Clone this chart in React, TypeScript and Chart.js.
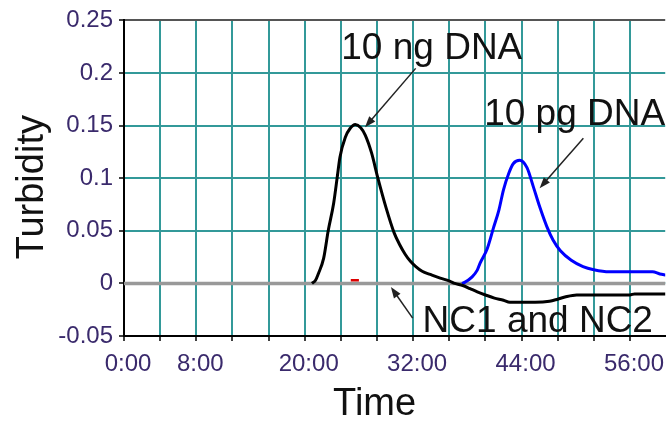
import React, { useEffect, useRef } from 'react';
import { Chart, registerables } from 'chart.js';

Chart.register(...registerables);

// ---- data ----
const xLabelValues = [0, 8, 20, 32, 44, 56];
const xGridValues = [0, 4, 8, 12, 16, 20, 24, 28, 32, 36, 40, 44, 48, 52, 56];
const yTickValues = [-0.05, 0, 0.05, 0.1, 0.15, 0.2, 0.25];

const ngTime = [20.8, 21.2, 21.5, 22.1, 22.6, 23.2, 23.6, 23.9, 24.5, 25.0, 25.6, 26.2, 26.7, 27.4, 28.1, 29.0, 29.9, 30.5, 31.1, 31.7, 32.3, 33.0, 33.9, 35.0, 36.1, 36.6, 37.5, 38.3, 39.1, 40.0, 41.0, 42.0, 42.7, 44.0, 45.5, 47.1, 48.0, 48.8, 50.1, 52.0, 54.0, 56.0, 56.5, 58.0, 60.0];
const ngValue = [0, 0.003, 0.009, 0.024, 0.05, 0.076, 0.101, 0.12, 0.139, 0.147, 0.151, 0.148, 0.141, 0.124, 0.1, 0.072, 0.048, 0.037, 0.028, 0.021, 0.016, 0.0115, 0.0085, 0.005, 0.002, 0, -0.002, -0.005, -0.008, -0.011, -0.014, -0.016, -0.018, -0.018, -0.018, -0.017, -0.015, -0.013, -0.011, -0.011, -0.011, -0.011, -0.010, -0.010, -0.010];

const pgTime = [37.4, 37.7, 38.5, 39.1, 39.4, 40.2, 40.9, 41.5, 42.0, 42.6, 43.1, 43.8, 44.6, 45.3, 46.0, 46.8, 47.5, 48.3, 49.5, 50.8, 52.0, 53.7, 55.6, 57.0, 58.5, 59.3, 60.0];
const pgValue = [0, 0.001, 0.006, 0.0126, 0.019, 0.033, 0.053, 0.07, 0.089, 0.105, 0.114, 0.117, 0.11, 0.092, 0.073, 0.054, 0.041, 0.031, 0.022, 0.016, 0.013, 0.011, 0.011, 0.011, 0.011, 0.009, 0.008];

const ncTime = [0, 60];
const ncValue = [0, 0];

const redTime = [25.1, 26.0];
const redValue = [0.003, 0.003];

const annotationTexts = ['10 ng DNA', '10 pg DNA', 'NC1 and NC2'];
const annotationAnchorX = [24.05, 39.86, 33.05];
const annotationAnchorY = [0.213, 0.1503, -0.0462];
const arrowFromX = [32.28, 50.84, 31.95];
const arrowFromY = [0.2044, 0.138, -0.033];
const arrowToX = [26.68, 46.0, 29.54];
const arrowToY = [0.1484, 0.0905, -0.0035];

const xTitle = 'Time';
const yTitle = 'Turbidity';

const toPoints = (xs: number[], ys: number[]) => xs.map((x, i) => ({ x, y: ys[i] }));

const TEAL = '#339999';
const FONT = '"Liberation Sans", Arial, sans-serif';
const TICK_COLOR = '#3a2a6c';

const overlayPlugin = {
  id: 'overlay',
  afterDatasetsDraw(chart: any) {
    const { ctx, scales } = chart;
    const xs = scales.x;
    const ys = scales.y;
    ctx.save();
    // annotations
    ctx.font = `37px ${FONT}`;
    ctx.textAlign = 'left';
    ctx.textBaseline = 'alphabetic';
    annotationTexts.forEach((t, i) => {
      ctx.fillStyle = '#111111';
      ctx.fillText(t, xs.getPixelForValue(annotationAnchorX[i]), ys.getPixelForValue(annotationAnchorY[i]));
      const x1 = xs.getPixelForValue(arrowFromX[i]);
      const y1 = ys.getPixelForValue(arrowFromY[i]);
      const x2 = xs.getPixelForValue(arrowToX[i]);
      const y2 = ys.getPixelForValue(arrowToY[i]);
      const ang = Math.atan2(y2 - y1, x2 - x1);
      const headLen = 11;
      const headW = 4;
      ctx.strokeStyle = '#222222';
      ctx.lineWidth = 1.5;
      ctx.beginPath();
      ctx.moveTo(x1, y1);
      ctx.lineTo(x2 - Math.cos(ang) * headLen * 0.8, y2 - Math.sin(ang) * headLen * 0.8);
      ctx.stroke();
      ctx.fillStyle = '#222222';
      ctx.beginPath();
      ctx.moveTo(x2, y2);
      ctx.lineTo(x2 - Math.cos(ang) * headLen - Math.sin(ang) * headW, y2 - Math.sin(ang) * headLen + Math.cos(ang) * headW);
      ctx.lineTo(x2 - Math.cos(ang) * headLen + Math.sin(ang) * headW, y2 - Math.sin(ang) * headLen - Math.cos(ang) * headW);
      ctx.closePath();
      ctx.fill();
    });
    // axis titles
    const area = chart.chartArea;
    ctx.font = `38px ${FONT}`;
    ctx.fillStyle = '#111111';
    ctx.textAlign = 'center';
    ctx.textBaseline = 'alphabetic';
    ctx.fillText(xTitle, (area.left + area.right) / 2 - 20, area.bottom + 79);
    ctx.save();
    ctx.translate(area.left - 81, (area.top + area.bottom) / 2 + 9);
    ctx.rotate(-Math.PI / 2);
    ctx.fillText(yTitle, 0, 0);
    ctx.restore();
    ctx.restore();
  },
};

export default function App() {
  const canvasRef = useRef<HTMLCanvasElement | null>(null);

  useEffect(() => {
    const canvas = canvasRef.current;
    if (!canvas) return;
    const chart = new Chart(canvas, {
      type: 'line',
      data: {
        datasets: [
          {
            label: 'red',
            data: toPoints(redTime, redValue),
            borderColor: '#dd0000',
            borderWidth: 2.5,
            pointRadius: 0,
            order: 0,
          },
          {
            label: '10 ng DNA',
            data: toPoints(ngTime, ngValue),
            borderColor: '#000000',
            borderWidth: 3,
            pointRadius: 0,
            cubicInterpolationMode: 'monotone',
            order: 1,
          },
          {
            label: '10 pg DNA',
            data: toPoints(pgTime, pgValue),
            borderColor: '#0000ff',
            borderWidth: 3,
            pointRadius: 0,
            cubicInterpolationMode: 'monotone',
            order: 2,
          },
          {
            label: 'NC1 and NC2',
            data: toPoints(ncTime, ncValue),
            borderColor: '#999999',
            borderWidth: 3.5,
            pointRadius: 0,
            order: 3,
          },
        ],
      },
      options: {
        animation: false,
        responsive: true,
        maintainAspectRatio: false,
        layout: { padding: { top: 20, left: 0, right: 0, bottom: 0 } },
        plugins: {
          legend: { display: false },
          tooltip: { enabled: false },
        },
        scales: {
          x: {
            type: 'linear',
            min: 0,
            max: 59.9,
            afterBuildTicks: (scale: any) => {
              scale.ticks = xGridValues.map((v) => ({ value: v }));
            },
            afterFit: (scale: any) => {
              scale.height = 87;
            },
            ticks: {
              autoSkip: false,
              maxRotation: 0,
              padding: 9,
              labelOffset: 4,
              color: TICK_COLOR,
              font: { family: FONT, size: 24 },
              callback: (v: any) => (xLabelValues.includes(Number(v)) ? `${v}:00` : ''),
            },
            grid: {
              color: (ctx: any) => (ctx.tick && ctx.tick.value === 0 ? 'rgba(0,0,0,0)' : TEAL),
              lineWidth: 2,
              tickColor: '#000000',
              tickLength: 5,
              tickWidth: 1.5,
            },
            border: { color: '#000000', width: 2 },
          },
          y: {
            type: 'linear',
            min: -0.05,
            max: 0.25,
            afterBuildTicks: (scale: any) => {
              scale.ticks = yTickValues.map((v) => ({ value: v }));
            },
            afterFit: (scale: any) => {
              scale.width = 124;
            },
            ticks: {
              padding: 6,
              color: TICK_COLOR,
              font: { family: FONT, size: 24 },
              callback: (v: any) => String(Math.round(Number(v) * 100) / 100),
            },
            grid: {
              color: (ctx: any) => {
                const v = ctx.tick ? ctx.tick.value : null;
                if (v === 0.25) return '#555555';
                if (v === -0.05) return 'rgba(0,0,0,0)';
                return TEAL;
              },
              lineWidth: 2,
              tickColor: '#000000',
              tickLength: 5,
              tickWidth: 1.5,
            },
            border: { color: '#000000', width: 2 },
          },
        },
      },
      plugins: [overlayPlugin],
    } as any);
    return () => chart.destroy();
  }, []);

  return (
    <div style={{ position: 'fixed', left: 0, top: 0, width: 669, height: 423, background: '#ffffff', overflow: 'hidden' }}>
      <canvas ref={canvasRef} />
    </div>
  );
}
